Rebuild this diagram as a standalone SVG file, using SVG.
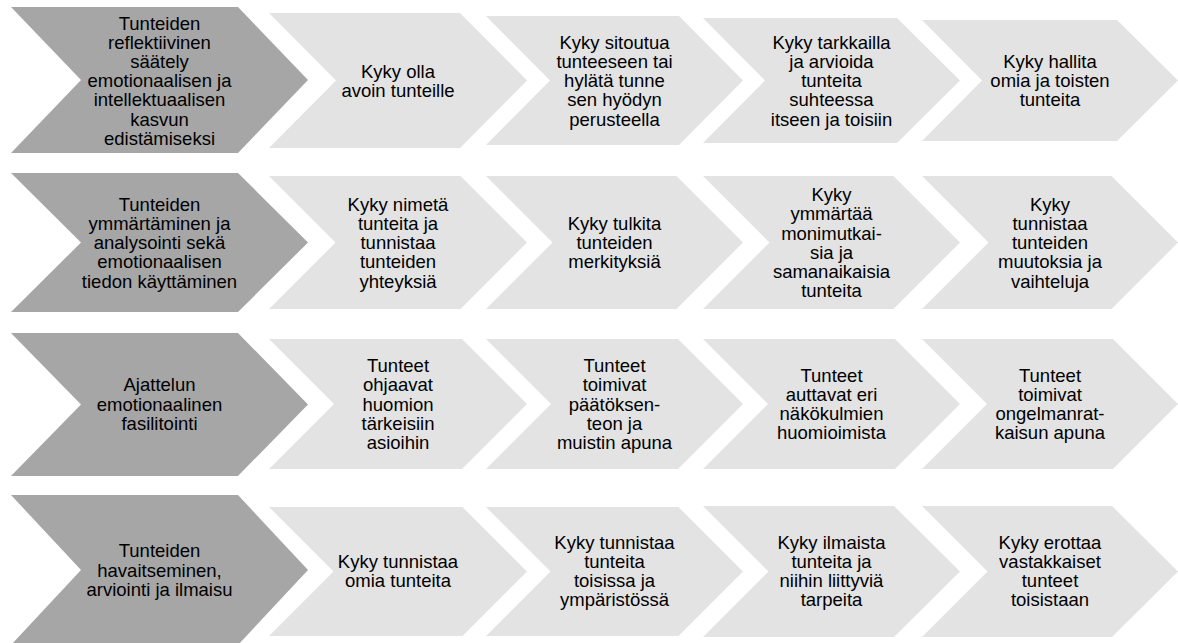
<svg xmlns="http://www.w3.org/2000/svg" width="1178" height="643" viewBox="0 0 1178 643">
<style>
.dark{fill:#a6a6a6}
.light{fill:#e3e3e3}
text{font-family:"Liberation Sans",Arial,sans-serif;font-size:18.5px;fill:#000;text-anchor:middle}
</style>
<rect width="1178" height="643" fill="#fff"/>
<g id="connectors"/>
<!-- Row 1 -->
<g id="r1-head"><path class="dark" d="M11,7 H238 L308,80 L238,153 H11 L81,80 Z"/>
<text y="29.5"><tspan x="159.5">Tunteiden</tspan><tspan x="159.5" dy="19.2">reflektiivinen</tspan><tspan x="159.5" dy="19.2">säätely</tspan><tspan x="159.5" dy="19.2">emotionaalisen ja</tspan><tspan x="159.5" dy="19.2">intellektuaalisen</tspan><tspan x="159.5" dy="19.2">kasvun</tspan><tspan x="159.5" dy="19.2">edistämiseksi</tspan></text></g>
<g id="r1-1"><path class="light" d="M269,13 H460 L527,80.5 L460,148 H269 L336,80.5 Z"/>
<text y="77.5"><tspan x="398">Kyky olla</tspan><tspan x="398" dy="19.2">avoin tunteille</tspan></text></g>
<g id="r1-2"><path class="light" d="M486,16 H679 L743,80.5 L679,145 H486 L550,80.5 Z"/>
<text y="48.7"><tspan x="614.5">Kyky sitoutua</tspan><tspan x="614.5" dy="19.2">tunteeseen tai</tspan><tspan x="614.5" dy="19.2">hylätä tunne</tspan><tspan x="614.5" dy="19.2">sen hyödyn</tspan><tspan x="614.5" dy="19.2">perusteella</tspan></text></g>
<g id="r1-3"><path class="light" d="M703,18 H897 L960,80.5 L897,143 H703 L765,80.5 Z"/>
<text y="48.7"><tspan x="831.5">Kyky tarkkailla</tspan><tspan x="831.5" dy="19.2">ja arvioida</tspan><tspan x="831.5" dy="19.2">tunteita</tspan><tspan x="831.5" dy="19.2">suhteessa</tspan><tspan x="831.5" dy="19.2">itseen ja toisiin</tspan></text></g>
<g id="r1-4"><path class="light" d="M922,20 H1117 L1178,80.5 L1117,141 H922 L982,80.5 Z"/>
<text y="67.9"><tspan x="1050">Kyky hallita</tspan><tspan x="1050" dy="19.2">omia ja toisten</tspan><tspan x="1050" dy="19.2">tunteita</tspan></text></g>
<!-- Row 2 -->
<g id="r2-head"><path class="dark" d="M11,173 H238 L308,242.5 L238,312 H11 L81,242.5 Z"/>
<text y="210.7"><tspan x="159.5">Tunteiden</tspan><tspan x="159.5" dy="19.2">ymmärtäminen ja</tspan><tspan x="159.5" dy="19.2">analysointi sekä</tspan><tspan x="159.5" dy="19.2">emotionaalisen</tspan><tspan x="159.5" dy="19.2">tiedon käyttäminen</tspan></text></g>
<g id="r2-1"><path class="light" d="M269,176 H460.5 L527,242.5 L460.5,309 H269 L335.5,242.5 Z"/>
<text y="210.7"><tspan x="398">Kyky nimetä</tspan><tspan x="398" dy="19.2">tunteita ja</tspan><tspan x="398" dy="19.2">tunnistaa</tspan><tspan x="398" dy="19.2">tunteiden</tspan><tspan x="398" dy="19.2">yhteyksiä</tspan></text></g>
<g id="r2-2"><path class="light" d="M486,176 H676.5 L743,242.5 L676.5,309 H486 L552.5,242.5 Z"/>
<text y="229.9"><tspan x="614.5">Kyky tulkita</tspan><tspan x="614.5" dy="19.2">tunteiden</tspan><tspan x="614.5" dy="19.2">merkityksiä</tspan></text></g>
<g id="r2-3"><path class="light" d="M703,176 H893.5 L960,242.5 L893.5,309 H703 L769.5,242.5 Z"/>
<text y="201.1"><tspan x="831.5">Kyky</tspan><tspan x="831.5" dy="19.2">ymmärtää</tspan><tspan x="831.5" dy="19.2">monimutkai-</tspan><tspan x="831.5" dy="19.2">sia ja</tspan><tspan x="831.5" dy="19.2">samanaikaisia</tspan><tspan x="831.5" dy="19.2">tunteita</tspan></text></g>
<g id="r2-4"><path class="light" d="M922,176 H1111.5 L1178,242.5 L1111.5,309 H922 L988.5,242.5 Z"/>
<text y="210.7"><tspan x="1050">Kyky</tspan><tspan x="1050" dy="19.2">tunnistaa</tspan><tspan x="1050" dy="19.2">tunteiden</tspan><tspan x="1050" dy="19.2">muutoksia ja</tspan><tspan x="1050" dy="19.2">vaihteluja</tspan></text></g>
<!-- Row 3 -->
<g id="r3-head"><path class="dark" d="M11,333 H238 L308,404.5 L238,476 H11 L81,404.5 Z"/>
<text y="391.4"><tspan x="159.5">Ajattelun</tspan><tspan x="159.5" dy="19.2">emotionaalinen</tspan><tspan x="159.5" dy="19.2">fasilitointi</tspan></text></g>
<g id="r3-1"><path class="light" d="M269,339 H462 L527,404 L462,469 H269 L334,404 Z"/>
<text y="372.2"><tspan x="398">Tunteet</tspan><tspan x="398" dy="19.2">ohjaavat</tspan><tspan x="398" dy="19.2">huomion</tspan><tspan x="398" dy="19.2">tärkeisiin</tspan><tspan x="398" dy="19.2">asioihin</tspan></text></g>
<g id="r3-2"><path class="light" d="M486,339 H678 L743,404 L678,469 H486 L551,404 Z"/>
<text y="372.2"><tspan x="614.5">Tunteet</tspan><tspan x="614.5" dy="19.2">toimivat</tspan><tspan x="614.5" dy="19.2">päätöksen-</tspan><tspan x="614.5" dy="19.2">teon ja</tspan><tspan x="614.5" dy="19.2">muistin apuna</tspan></text></g>
<g id="r3-3"><path class="light" d="M703,339 H895 L960,404 L895,469 H703 L768,404 Z"/>
<text y="381.8"><tspan x="831.5">Tunteet</tspan><tspan x="831.5" dy="19.2">auttavat eri</tspan><tspan x="831.5" dy="19.2">näkökulmien</tspan><tspan x="831.5" dy="19.2">huomioimista</tspan></text></g>
<g id="r3-4"><path class="light" d="M922,339 H1113 L1178,404 L1113,469 H922 L987,404 Z"/>
<text y="381.8"><tspan x="1050">Tunteet</tspan><tspan x="1050" dy="19.2">toimivat</tspan><tspan x="1050" dy="19.2">ongelmanrat-</tspan><tspan x="1050" dy="19.2">kaisun apuna</tspan></text></g>
<!-- Row 4 -->
<g id="r4-head"><path class="dark" d="M11,495 H238 L308,570 L238,645 H11 L81,570 Z"/>
<text y="557.4"><tspan x="159.5">Tunteiden</tspan><tspan x="159.5" dy="19.2">havaitseminen,</tspan><tspan x="159.5" dy="19.2">arviointi ja ilmaisu</tspan></text></g>
<g id="r4-1"><path class="light" d="M269,507 H462.5 L527,571.5 L462.5,636 H269 L333.5,571.5 Z"/>
<text y="568"><tspan x="398">Kyky tunnistaa</tspan><tspan x="398" dy="19.2">omia tunteita</tspan></text></g>
<g id="r4-2"><path class="light" d="M486,507 H678.5 L743,571.5 L678.5,636 H486 L550.5,571.5 Z"/>
<text y="548.8"><tspan x="614.5">Kyky tunnistaa</tspan><tspan x="614.5" dy="19.2">tunteita</tspan><tspan x="614.5" dy="19.2">toisissa ja</tspan><tspan x="614.5" dy="19.2">ympäristössä</tspan></text></g>
<g id="r4-3"><path class="light" d="M703,506 H894 L960,571.5 L894,637 H703 L768.5,571.5 Z"/>
<text y="548.8"><tspan x="831.5">Kyky ilmaista</tspan><tspan x="831.5" dy="19.2">tunteita ja</tspan><tspan x="831.5" dy="19.2">niihin liittyviä</tspan><tspan x="831.5" dy="19.2">tarpeita</tspan></text></g>
<g id="r4-4"><path class="light" d="M922,506 H1112 L1178,571.5 L1112,637 H922 L987.5,571.5 Z"/>
<text y="548.8"><tspan x="1050">Kyky erottaa</tspan><tspan x="1050" dy="19.2">vastakkaiset</tspan><tspan x="1050" dy="19.2">tunteet</tspan><tspan x="1050" dy="19.2">toisistaan</tspan></text></g>
</svg>
